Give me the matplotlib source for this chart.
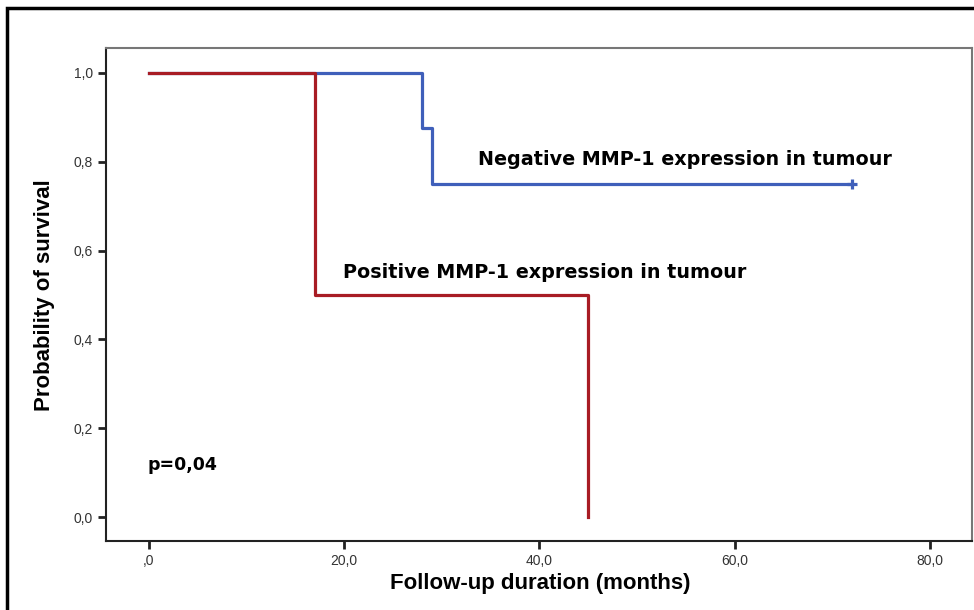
import matplotlib.pyplot as plt
from matplotlib.patches import Rectangle

# Kaplan-Meier step data
neg_time = [0, 28, 29, 72]
neg_surv = [1.0, 0.875, 0.75, 0.75]
pos_time = [0, 17, 45, 45]
pos_surv = [1.0, 0.5, 0.0, 0.0]
neg_censor_time = [72]
neg_censor_surv = [0.75]

x_ticks = [0, 20, 40, 60, 80]
x_tick_labels = [',0', '20,0', '40,0', '60,0', '80,0']
y_ticks = [0.0, 0.2, 0.4, 0.6, 0.8, 1.0]
y_tick_labels = ['0,0', '0,2', '0,4', '0,6', '0,8', '1,0']

BLUE = '#3f5fba'
RED = '#a81c24'

fig = plt.figure(figsize=(9.74, 6.10), dpi=100)
ax = fig.add_axes([106/974, 1 - 541/610, (972-106)/974, (541-48)/610])

# outer frame
fig.patches.append(Rectangle((7/974, -0.1), 1.2, 1 - 8/610 + 0.1, transform=fig.transFigure,
                             fill=False, edgecolor='black', linewidth=2.5))

ax.step(neg_time, neg_surv, where='post', color=BLUE, linewidth=2.3)
ax.step(pos_time, pos_surv, where='post', color=RED, linewidth=2.3)
ax.plot(neg_censor_time, neg_censor_surv, marker='+', color=BLUE, markersize=7, markeredgewidth=2.3)

ax.set_xlim(-4.4, 84.3)
ax.set_ylim(-0.054, 1.056)
ax.set_xticks(x_ticks)
ax.set_xticklabels(x_tick_labels)
ax.set_yticks(y_ticks)
ax.set_yticklabels(y_tick_labels)
ax.tick_params(axis='both', labelsize=10, colors='#222222', width=2, length=6)
for lbl in ax.get_xticklabels() + ax.get_yticklabels():
    lbl.set_family(['Liberation Sans', 'DejaVu Sans'])
    lbl.set_color('#333333')

for side in ['left', 'bottom']:
    ax.spines[side].set_color('#222222')
    ax.spines[side].set_linewidth(1.5)
for side in ['top', 'right']:
    ax.spines[side].set_color('#777777')
    ax.spines[side].set_linewidth(1.5)

ax.text(33.7, 0.804, 'Negative MMP-1 expression in tumour', fontsize=13.8, fontweight='bold', va='center')
ax.text(19.9, 0.55, 'Positive MMP-1 expression in tumour', fontsize=13.8, fontweight='bold', va='center')
ax.text(-0.1, 0.117, 'p=0,04', fontsize=12.5, fontweight='bold', va='center')

fig.text(540/974, 1 - 583/610, 'Follow-up duration (months)', ha='center', va='center',
         fontsize=16, fontweight='bold', family=['Liberation Sans', 'DejaVu Sans'])
fig.text(45/974, 1 - 295/610, 'Probability of survival', ha='center', va='center', rotation=90,
         fontsize=16, fontweight='bold', family=['Liberation Sans', 'DejaVu Sans'])

fig.savefig('out.png', dpi=100)
